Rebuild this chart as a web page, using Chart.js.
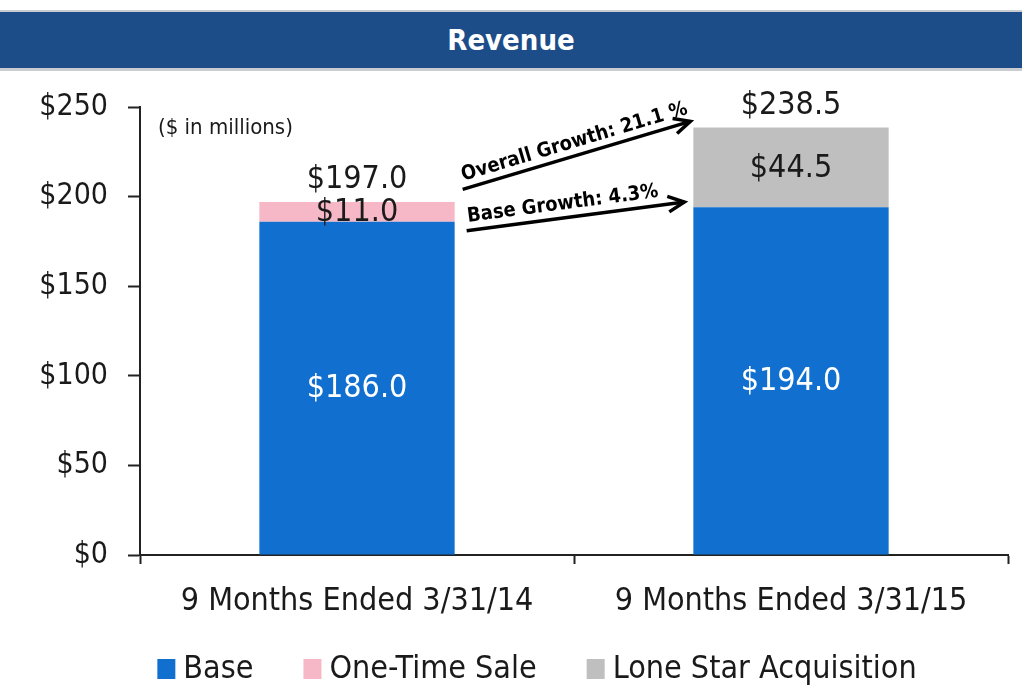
<!DOCTYPE html>
<html lang="en">
<head>
<meta charset="UTF-8" />
<title>Revenue</title>
<script src="https://cdn.jsdelivr.net/npm/chart.js"></script>
<style>
  body { margin: 0; background: #fff; width: 1022px; height: 686px; overflow: hidden; position: relative; }
  #banner {
    position: absolute; left: 0; top: 10px; width: 1022px; height: 56px;
    background: #1c4d89; border-top: 2px solid #c9ccd1; border-bottom: 3px solid #c9ccd1;
    color: #fff; font: bold 29px 'Liberation Sans Narrow', 'DejaVu Sans Condensed', sans-serif;
    text-align: center; line-height: 56px;
  }
  #wrap { position: absolute; left: 0; top: 0; width: 1022px; height: 686px; }
</style>
</head>
<body>
  <div id="banner">Revenue</div>
  <div id="wrap"><canvas id="revChart" width="1022" height="686"></canvas></div>

  <script>
    const FONT = "'Liberation Sans Narrow', 'DejaVu Sans Condensed', sans-serif";

    // chart data
    const categories = ['9 Months Ended 3/31/14', '9 Months Ended 3/31/15'];
    const baseValues = [186.0, 194.0];
    const oneTimeValues = [11.0, 0];
    const loneStarValues = [0, 44.5];
    const totals = [197.0, 238.5];
    const yTickValues = [0, 50, 100, 150, 200, 250];

    // growth arrows: [start value, end value] on the y scale
    const overallArrow = [204, 242];
    const baseArrow = [181, 197];
    const overallText = 'Overall Growth: 21.1 %';
    const baseText = 'Base Growth: 4.3%';

    const money = v => '$' + v.toFixed(1);

    // value labels inside and above the bars
    const labelPlugin = {
      id: 'barLabels',
      afterDatasetsDraw(chart) {
        const ctx = chart.ctx;
        ctx.save();
        ctx.font = '32px ' + FONT;
        ctx.textAlign = 'center';
        ctx.textBaseline = 'middle';
        chart.data.datasets.forEach((ds, di) => {
          const meta = chart.getDatasetMeta(di);
          meta.data.forEach((bar, i) => {
            const v = ds.data[i];
            if (!v) return;
            ctx.fillStyle = di === 0 ? '#ffffff' : '#1a1a1a';
            const mid = (bar.y + bar.base) / 2;
            ctx.fillText(money(v), bar.x, mid + 1);
          });
        });
        const y = chart.scales.y;
        const x = chart.scales.x;
        ctx.fillStyle = '#1a1a1a';
        totals.forEach((t, i) => {
          ctx.fillText(money(t), x.getPixelForValue(i), y.getPixelForValue(t) - 22);
        });
        ctx.restore();
      }
    };

    function drawArrow(ctx, x1, y1, x2, y2, text) {
      const ang = Math.atan2(y2 - y1, x2 - x1);
      ctx.strokeStyle = '#000';
      ctx.lineWidth = 3.5;
      ctx.beginPath();
      ctx.moveTo(x1, y1);
      ctx.lineTo(x2, y2);
      ctx.stroke();
      ctx.beginPath();
      ctx.moveTo(x2 - 18 * Math.cos(ang - 0.45), y2 - 18 * Math.sin(ang - 0.45));
      ctx.lineTo(x2, y2);
      ctx.lineTo(x2 - 18 * Math.cos(ang + 0.45), y2 - 18 * Math.sin(ang + 0.45));
      ctx.stroke();
      ctx.save();
      ctx.translate(x1 + 2, y1 - 4);
      ctx.rotate(ang);
      ctx.fillStyle = '#000';
      ctx.font = 'bold 20px ' + FONT;
      ctx.textAlign = 'left';
      ctx.textBaseline = 'bottom';
      ctx.fillText(text, 0, 0);
      ctx.restore();
    }

    const arrowPlugin = {
      id: 'growthArrows',
      afterDatasetsDraw(chart) {
        const ctx = chart.ctx;
        const y = chart.scales.y;
        const b0 = chart.getDatasetMeta(0).data[0];
        const b1 = chart.getDatasetMeta(0).data[1];
        const xs = b0.x + b0.width / 2 + 8;
        const xe = b1.x - b1.width / 2 - 3;
        ctx.save();
        drawArrow(ctx, xs, y.getPixelForValue(overallArrow[0]), xe, y.getPixelForValue(overallArrow[1]), overallText);
        drawArrow(ctx, xs + 4, y.getPixelForValue(baseArrow[0]), xe - 6, y.getPixelForValue(baseArrow[1]), baseText);
        ctx.font = '22px ' + FONT;
        ctx.fillStyle = '#1a1a1a';
        ctx.textAlign = 'left';
        ctx.textBaseline = 'middle';
        ctx.fillText('($ in millions)', chart.chartArea.left + 18, y.getPixelForValue(250) + 21);
        ctx.restore();
      }
    };

    // legend row under the axis, built from the datasets
    const legendPlugin = {
      id: 'legendRow',
      afterDraw(chart) {
        const ctx = chart.ctx;
        const sets = chart.data.datasets;
        const boxW = 18, boxH = 20, gap = 8, itemGap = 50;
        ctx.save();
        ctx.font = '32px ' + FONT;
        ctx.textBaseline = 'middle';
        ctx.textAlign = 'left';
        const widths = sets.map(ds => boxW + gap + ctx.measureText(ds.label).width);
        const total = widths.reduce((a, b) => a + b, 0) + itemGap * (sets.length - 1);
        let x = 537 - total / 2;
        const cy = 669;
        sets.forEach((ds, i) => {
          ctx.fillStyle = ds.backgroundColor;
          ctx.fillRect(x, cy - boxH / 2, boxW, boxH);
          ctx.fillStyle = '#1a1a1a';
          ctx.fillText(ds.label, x + boxW + gap, cy + 1);
          x += widths[i] + itemGap;
        });
        ctx.restore();
      }
    };

    new Chart(document.getElementById('revChart').getContext('2d'), {
      type: 'bar',
      data: {
        labels: categories,
        datasets: [
          { label: 'Base', data: baseValues, backgroundColor: '#1170cf' },
          { label: 'One-Time Sale', data: oneTimeValues, backgroundColor: '#f6b8c6' },
          { label: 'Lone Star Acquisition', data: loneStarValues, backgroundColor: '#bfbfbf' }
        ]
      },
      options: {
        responsive: false,
        animation: false,
        events: [],
        datasets: { bar: { categoryPercentage: 1, barPercentage: 0.45 } },
        layout: { padding: { top: 107, left: 12, right: 14, bottom: 51 } },
        scales: {
          x: {
            stacked: true,
            afterFit: s => { s.height = 80; },
            grid: { offset: true, drawOnChartArea: false, tickLength: 9, color: '#222', tickWidth: 2 },
            border: { color: '#222', width: 2 },
            ticks: { font: { family: FONT, size: 32 }, color: '#1a1a1a', padding: 18 }
          },
          y: {
            stacked: true,
            min: 0,
            max: 250,
            afterBuildTicks: s => { s.ticks = yTickValues.map(v => ({ value: v })); },
            afterFit: s => { s.width = 128; },
            grid: { drawOnChartArea: false, tickLength: 12, color: '#222', tickWidth: 2 },
            border: { color: '#222', width: 2 },
            ticks: { font: { family: FONT, size: 30 }, color: '#1a1a1a', padding: 20, callback: v => '$' + v }
          }
        },
        plugins: {
          legend: { display: false },
          tooltip: { enabled: false }
        }
      },
      plugins: [labelPlugin, arrowPlugin, legendPlugin]
    });
  </script>
</body>
</html>
